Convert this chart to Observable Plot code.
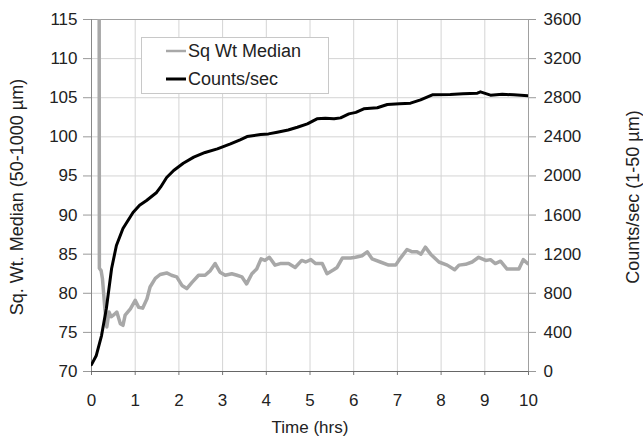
<!DOCTYPE html>
<html>
<head>
<meta charset="utf-8">
<script src="https://cdn.jsdelivr.net/npm/d3@7"></script>
<script src="https://cdn.jsdelivr.net/npm/@observablehq/plot@0.6"></script>
<style>
  body { margin: 0; background: #fff; }
  #chart { width: 643px; height: 439px; }
</style>
</head>
<body>
<div id="chart"></div>
<script>
// Counts/sec (1-50 µm), right axis
const countHours = [0, 0.11, 0.23, 0.34, 0.46, 0.57, 0.72, 0.95, 1.1, 1.26, 1.49, 1.58, 1.72, 1.88, 2.1, 2.34, 2.6, 2.88, 3.18, 3.4, 3.56, 3.87, 4.05, 4.25, 4.5, 4.71, 4.94, 5.16, 5.35, 5.55, 5.7, 5.89, 6.05, 6.23, 6.54, 6.77, 7.05, 7.3, 7.53, 7.8, 8.21, 8.5, 8.83, 8.9, 9.13, 9.4, 9.66, 10];
const countsPerSec = [70, 164, 368, 644, 1053, 1289, 1462, 1626, 1700, 1749, 1831, 1885, 1984, 2056, 2130, 2192, 2240, 2277, 2328, 2370, 2403, 2424, 2430, 2447, 2470, 2498, 2533, 2584, 2590, 2584, 2594, 2635, 2650, 2686, 2697, 2731, 2738, 2744, 2778, 2830, 2833, 2840, 2847, 2860, 2826, 2835, 2830, 2820];

// Square-weighted median (50-1000 µm), left axis
const medianHours = [0.17, 0.18, 0.22, 0.25, 0.31, 0.35, 0.4, 0.45, 0.5, 0.58, 0.66, 0.72, 0.77, 0.89, 1.0, 1.08, 1.17, 1.27, 1.34, 1.46, 1.57, 1.72, 1.83, 1.95, 2.07, 2.18, 2.3, 2.45, 2.6, 2.72, 2.83, 2.94, 3.06, 3.21, 3.33, 3.44, 3.55, 3.67, 3.78, 3.88, 3.97, 4.07, 4.2, 4.32, 4.51, 4.66, 4.81, 4.9, 5.02, 5.13, 5.28, 5.39, 5.54, 5.62, 5.74, 5.93, 6.04, 6.19, 6.31, 6.42, 6.61, 6.8, 6.96, 7.07, 7.22, 7.34, 7.45, 7.54, 7.64, 7.76, 7.95, 8.14, 8.31, 8.41, 8.56, 8.71, 8.86, 9.02, 9.13, 9.24, 9.36, 9.51, 9.66, 9.78, 9.88, 9.98];
const sqWtMedian = [160, 83.2, 82.9, 81.9, 77.8, 75.7, 77.6, 77.0, 77.2, 77.6, 76.1, 75.9, 77.2, 78.0, 79.1, 78.2, 78.1, 79.3, 80.8, 81.9, 82.4, 82.6, 82.3, 82.1, 81.0, 80.6, 81.4, 82.3, 82.3, 82.9, 83.8, 82.7, 82.3, 82.5, 82.3, 82.1, 81.2, 82.5, 83.1, 84.4, 84.2, 84.6, 83.6, 83.8, 83.8, 83.3, 84.2, 84.0, 84.3, 83.8, 83.8, 82.5, 83.0, 83.3, 84.5, 84.5, 84.6, 84.8, 85.3, 84.4, 84.0, 83.6, 83.6, 84.5, 85.6, 85.3, 85.3, 85.0, 85.9, 85.0, 84.0, 83.6, 83.0, 83.6, 83.7, 84.0, 84.6, 84.2, 84.3, 83.8, 84.1, 83.1, 83.1, 83.1, 84.3, 83.8];

// Axis ticks
const hourTicks = [0, 1, 2, 3, 4, 5, 6, 7, 8, 9, 10];
const medianTicks = [70, 75, 80, 85, 90, 95, 100, 105, 110, 115];
const countTicks = [0, 400, 800, 1200, 1600, 2000, 2400, 2800, 3200, 3600];

// The counts share the left scale: 0-3600 counts/sec spans 70-115 µm
const LEFT_MIN = 70, LEFT_MAX = 115, COUNT_MAX = 3600;
const toLeft = c => LEFT_MIN + c * (LEFT_MAX - LEFT_MIN) / COUNT_MAX;
const countLabel = v => String(countTicks[medianTicks.indexOf(v)]);

const countData = countHours.map((t, i) => ({t, v: toLeft(countsPerSec[i])}));
const medianData = medianHours.map((t, i) => ({t, v: sqWtMedian[i]}));

const FONT = "'Liberation Sans', Arial, Helvetica, sans-serif";
const GRAY = "#a8a8a8";

const svg = Plot.plot({
  width: 643,
  height: 439,
  marginLeft: 91,
  marginRight: 115,
  marginTop: 19,
  marginBottom: 68,
  x: {domain: [0, 10]},
  y: {domain: [LEFT_MIN, LEFT_MAX]},
  style: {fontFamily: FONT, fontSize: "17px", color: "#222", background: "#fff"},
  marks: [
    Plot.gridX(hourTicks, {stroke: "#d4d4d4", strokeOpacity: 1}),
    Plot.gridY(medianTicks, {stroke: "#d4d4d4", strokeOpacity: 1}),
    Plot.ruleY([LEFT_MAX], {stroke: "#a0a0a0"}),
    Plot.ruleX([10], {stroke: "#a0a0a0"}),
    Plot.axisX({ticks: hourTicks, tickSize: 4, tickPadding: 18, stroke: "#777", fill: "#222", label: null}),
    Plot.axisY({ticks: medianTicks, anchor: "left", tickSize: 8, tickPadding: 6, stroke: "#999", fill: "#222", label: null}),
    Plot.axisY({ticks: medianTicks, anchor: "right", tickSize: 7, tickPadding: 8, stroke: "#999", fill: "#222", tickFormat: countLabel, label: null}),
    Plot.ruleX([0], {stroke: "#888"}),
    Plot.ruleY([LEFT_MIN], {stroke: "#666"}),
    Plot.line(medianData, {x: "t", y: "v", stroke: GRAY, strokeWidth: 3.5, clip: true}),
    Plot.line(countData, {x: "t", y: "v", stroke: "#000", strokeWidth: 3, clip: true})
  ]
});

const root = d3.select(svg);

// Axis titles
root.append("text")
  .attr("transform", "translate(17,197) rotate(-90)")
  .attr("text-anchor", "middle").attr("dominant-baseline", "central")
  .attr("font-family", FONT).attr("font-size", 18).attr("fill", "#222")
  .text("Sq. Wt. Median (50-1000 µm)");
root.append("text")
  .attr("transform", "translate(633,197) rotate(-90)")
  .attr("text-anchor", "middle").attr("dominant-baseline", "central")
  .attr("font-family", FONT).attr("font-size", 18).attr("fill", "#222")
  .text("Counts/sec (1-50 µm)");
root.append("text")
  .attr("x", 310).attr("y", 433)
  .attr("text-anchor", "middle")
  .attr("font-family", FONT).attr("font-size", 17).attr("fill", "#222")
  .text("Time (hrs)");

// Legend
const legend = root.append("g");
legend.append("rect")
  .attr("x", 141.5).attr("y", 37.5).attr("width", 187).attr("height", 56)
  .attr("fill", "#fff").attr("stroke", "#c8c8c8");
const entries = [
  {label: "Sq Wt Median", color: GRAY, width: 2.5, y: 51},
  {label: "Counts/sec", color: "#000", width: 3, y: 79}
];
for (const e of entries) {
  legend.append("line")
    .attr("x1", 166).attr("x2", 186).attr("y1", e.y).attr("y2", e.y)
    .attr("stroke", e.color).attr("stroke-width", e.width);
  legend.append("text")
    .attr("x", 188).attr("y", e.y)
    .attr("text-anchor", "start").attr("dominant-baseline", "central")
    .attr("font-family", FONT).attr("font-size", 18).attr("fill", "#222")
    .text(e.label);
}

document.getElementById("chart").appendChild(svg);
</script>
</body>
</html>
